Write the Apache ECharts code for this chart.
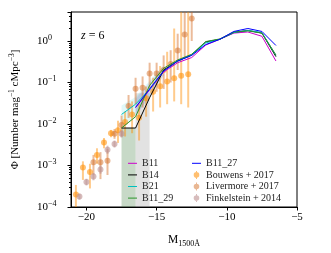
<!DOCTYPE html>
<html><head><meta charset="utf-8">
<script src="https://cdn.jsdelivr.net/npm/echarts@6/dist/echarts.min.js"></script>
<style>html,body{margin:0;padding:0;background:#fff}#c{width:331px;height:253px}</style>
</head><body><div id="c"></div>
<script>
// ---- data ----
const xTickValues = [-20, -15, -10, -5];
const yMinorTicks = [];
for (let e = -4; e <= 0; e++) for (let k = 2; k <= 9; k++) { const v = k * Math.pow(10, e); if (v <= 5) yMinorTicks.push(v); }

const modelM = [-17.5, -16.5, -15.5, -14.5, -13.5, -12.5, -11.5, -10.5, -9.5, -8.5, -7.5, -6.5];
const B11    = [null, 0.025, 0.066, 0.18, 0.30, 0.40, 0.80, 1.10, 1.55, 1.65, 1.30, 0.33];
const B14    = [0.008, 0.008, 0.043, 0.20, 0.33, 0.46, 0.95, 1.10, 1.60, 1.80, 1.55, 0.42];
const B21    = [0.017, 0.030, 0.068, 0.19, 0.33, 0.46, 0.90, 1.10, 1.60, 1.80, 1.60, 0.45];
const B11_29 = [0.008, 0.015, 0.085, 0.22, 0.35, 0.48, 0.97, 1.12, 1.65, 1.75, 1.55, 0.46];
const B11_27 = [null, 0.025, 0.070, 0.19, 0.33, 0.45, 0.82, 1.10, 1.70, 2.00, 1.70, 0.78];

const cyanBandM = [-17.5, -16.5, -15.5, -14.5];
const cyanBandLo = [0.008, 0.016, 0.045, 0.15];
const cyanBandHi = [0.028, 0.045, 0.110, 0.26];
const blueBandM = [-16.5, -15.5, -14.5];
const blueBandLo = [0.016, 0.045, 0.15];
const blueBandHi = [0.040, 0.100, 0.25];

const greenShadeM = [-17.5, -16.5];
const greenShadeTop = 0.008;
const grayShadeM = [-16.5, -15.5];
const grayShadeTop = 0.055;

const bouwensM   = [-20.75,-20.25,-19.75,-19.25,-18.75,-18.25,-17.75,-17.25,-16.75,-16.25,-15.75,-15.25,-14.75,-14.25,-13.75,-13.25,-12.75];
const bouwensPhi = [0.0002,0.0009,0.0007,0.0018,0.0036,0.0060,0.0071,0.0111,0.0170,0.0142,0.0415,0.0599,0.0817,0.1052,0.1275,0.1464,0.1584];
const bouwensLo  = [0.00001,0.00045,0.00028,0.0011,0.0026,0.0048,0.0035,0.005,0.006,0.004,0.015,0.02,0.025,0.03,0.035,0.03,0.025];
const bouwensHi  = [0.00034,0.00126,0.0011,0.0026,0.0046,0.0072,0.012,0.02,0.035,0.03,0.08,0.13,0.25,0.55,2,6,20];

const livM   = [-19.5,-19,-18.5,-18,-17.5,-17,-16.5,-16,-15.5,-15,-14.5,-14,-13.5,-13,-12.5];
const livPhi = [0.0012,0.0012,0.0013,0.0058,0.0095,0.027,0.071,0.075,0.164,0.164,0.20,0.28,0.59,1.44,3.5];
const livLo  = [0.0006,0.00047,0.00059,0.0044,0.005,0.014,0.03,0.025,0.07,0.06,0.07,0.10,0.20,0.40,1.0];
const livHi  = [0.0018,0.0021,0.0025,0.0076,0.016,0.05,0.13,0.14,0.30,0.30,0.45,0.60,1.5,5,10];

const finM   = [-20.5,-20,-19.5,-19,-18.5,-18,-17.5];
const finPhi = [0.00018,0.0004,0.00054,0.0008,0.0024,0.0033,0.0058];
const finLo  = [0.00015,0.00033,0.00044,0.00063,0.0019,0.0027,0.0047];
const finHi  = [0.00021,0.00048,0.00066,0.0010,0.0030,0.0040,0.0071];

// ---- helpers ----
const serif = 'Liberation Serif';
const zip = (xs, ys) => xs.map((x, i) => [x, ys[i]]);
function errSeries(name, xs, lo, hi, color) {
  return {
    type: 'custom', name: name, silent: true, clip: true, z: 2,
    data: xs.map((x, i) => [x, lo[i], hi[i]]),
    encode: { x: 0, y: [1, 2] },
    renderItem: (p, api) => {
      const a = api.coord([api.value(0), api.value(1)]);
      const b = api.coord([api.value(0), api.value(2)]);
      return { type: 'line', shape: { x1: a[0], y1: a[1], x2: b[0], y2: b[1] }, style: { stroke: color, lineWidth: 2 } };
    }
  };
}
function bandSeries(name, xs, lo, hi, color, z) {
  return {
    type: 'custom', name: name, silent: true, clip: true, z: z,
    data: [[xs[0], lo[0]]],
    renderItem: (p, api) => {
      const pts = [];
      for (let i = 0; i < xs.length; i++) pts.push(api.coord([xs[i], hi[i]]));
      for (let i = xs.length - 1; i >= 0; i--) pts.push(api.coord([xs[i], lo[i]]));
      return { type: 'polygon', shape: { points: pts }, style: { fill: color } };
    }
  };
}
function lineSeries(name, ys, color) {
  return {
    type: 'line', name: name, data: zip(modelM, ys), showSymbol: false, symbol: 'none',
    lineStyle: { color: color, width: 1 }, itemStyle: { color: color }, z: 5, connectNulls: false
  };
}
function scatterSeries(name, xs, ys, color) {
  return { type: 'scatter', name: name, data: zip(xs, ys), symbol: 'circle', symbolSize: 6,
    itemStyle: { color: color }, z: 3 };
}
const lineIcon = 'path://M0,0L0,0M0,3.5L9,3.5L9,4.5L0,4.5ZM9,8L9,8';
const ptIcon = 'path://M0,0L0,0M4.5,1.2A2.8,2.8,0,1,1,4.49,1.2ZM4,0L5,0L5,8L4,8ZM9,8L9,8';

const supFmt = v => {
  const e = Math.round(Math.log10(v));
  if (Math.abs(Math.log10(v) - e) > 1e-6) return '';
  return '{b|10}{s|' + (e < 0 ? '\u2212' + (-e) : String(e)) + '}';
};

const legendText = { fontFamily: serif, fontSize: 10, color: '#222', lineHeight: 11.6 };

const chart = echarts.init(document.getElementById('c'), null, { renderer: 'canvas' });
chart.setOption({
  animation: false,
  backgroundColor: '#fff',
  grid: { left: 67, right: 34, top: 12, bottom: 44, show: true, borderColor: '#000', borderWidth: 1, backgroundColor: 'transparent' },
  xAxis: {
    type: 'value', min: -21.1, max: -5,
    axisLine: { show: true, onZero: false, lineStyle: { color: '#000', width: 1 } },
    axisTick: { show: true, length: 3.5, customValues: xTickValues, lineStyle: { color: '#000' } },
    axisLabel: { customValues: xTickValues, formatter: v => (v < 0 ? '\u2212' + Math.abs(v) : String(v)), fontFamily: serif, fontSize: 11, color: '#000', margin: 5 },
    splitLine: { show: false },
    name: '{m|M}{s|1500\u00c5}', nameLocation: 'middle', nameGap: 24,
    nameTextStyle: { rich: { m: { fontFamily: serif, fontSize: 11.5, color: '#000' }, s: { fontFamily: serif, fontSize: 8, color: '#000', padding: [9, 0, 0, 0] } } }
  },
  yAxis: [{
    type: 'log', logBase: 10, min: 1e-4, max: 5, position: 'left',
    axisLine: { show: true, lineStyle: { color: '#000', width: 1 } },
    axisTick: { show: true, length: 3.5, lineStyle: { color: '#000' } },
    axisLabel: { formatter: supFmt, align: 'left', margin: 34, color: '#000',
      rich: { b: { fontFamily: serif, fontSize: 11, color: '#000' }, s: { fontFamily: serif, fontSize: 8, color: '#000', padding: [0, 0, 7, 0] } } },
    splitLine: { show: false },
    name: '\u03a6 [Number mag{s|\u22121} cMpc{s|\u22123}]', nameLocation: 'middle', nameGap: 48,
    nameTextStyle: { fontFamily: serif, fontSize: 11, color: '#000', rich: { s: { fontFamily: serif, fontSize: 7.5, color: '#000', padding: [0, 0, 7, 0] } } }
  }, {
    type: 'log', logBase: 10, min: 1e-4, max: 5, position: 'left',
    axisLine: { show: false },
    axisTick: { show: true, length: 2, customValues: yMinorTicks, lineStyle: { color: '#000' } },
    axisLabel: { show: false }, splitLine: { show: false }
  }],
  legend: [{
    left: 128, top: 157.5, orient: 'vertical', itemGap: 0, itemWidth: 9, itemHeight: 8, padding: 0,
    textStyle: legendText,
    data: [{ name: 'B11', icon: lineIcon }, { name: 'B14', icon: lineIcon }, { name: 'B21', icon: lineIcon }, { name: 'B11_29', icon: lineIcon }]
  }, {
    left: 192, top: 157.5, orient: 'vertical', itemGap: 0, itemWidth: 9, itemHeight: 8, padding: 0,
    textStyle: legendText,
    data: [{ name: 'B11_27', icon: lineIcon }, { name: 'Bouwens + 2017', icon: ptIcon }, { name: 'Livermore + 2017', icon: ptIcon }, { name: 'Finkelstein + 2014', icon: ptIcon }]
  }],
  graphic: [{
    type: 'text', left: 81, top: 30,
    style: { text: '{i|z} = 6', fontFamily: serif, fontSize: 12, fill: '#000', rich: { i: { fontFamily: serif, fontStyle: 'italic', fontSize: 12, fill: '#000' } } }
  }],
  series: [
    bandSeries('greenShade', greenShadeM, [1e-5, 1e-5], [greenShadeTop, greenShadeTop], 'rgba(70,130,70,0.3)', 0),
    bandSeries('grayShade', grayShadeM, [1e-5, 1e-5], [grayShadeTop, grayShadeTop], 'rgba(140,140,140,0.25)', 0),
    bandSeries('cyanBand', cyanBandM, cyanBandLo, cyanBandHi, 'rgba(0,200,200,0.12)', 1),
    bandSeries('blueBand', blueBandM, blueBandLo, blueBandHi, 'rgba(110,80,230,0.14)', 1),
    errSeries('bouwensErr', bouwensM, bouwensLo, bouwensHi, 'rgba(255,140,0,0.45)'),
    errSeries('livErr', livM, livLo, livHi, 'rgba(210,105,30,0.45)'),
    errSeries('finErr', finM, finLo, finHi, 'rgba(188,143,143,0.5)'),
    scatterSeries('Bouwens + 2017', bouwensM, bouwensPhi, 'rgba(255,140,0,0.7)'),
    scatterSeries('Livermore + 2017', livM, livPhi, 'rgba(210,105,30,0.6)'),
    scatterSeries('Finkelstein + 2014', finM, finPhi, 'rgba(188,143,143,0.75)'),
    lineSeries('B11', B11, '#cc00cc'),
    lineSeries('B14', B14, '#000000'),
    lineSeries('B21', B21, '#00bfbf'),
    lineSeries('B11_29', B11_29, '#2a932a'),
    lineSeries('B11_27', B11_27, '#0000ff')
  ]
});
</script></body></html>
